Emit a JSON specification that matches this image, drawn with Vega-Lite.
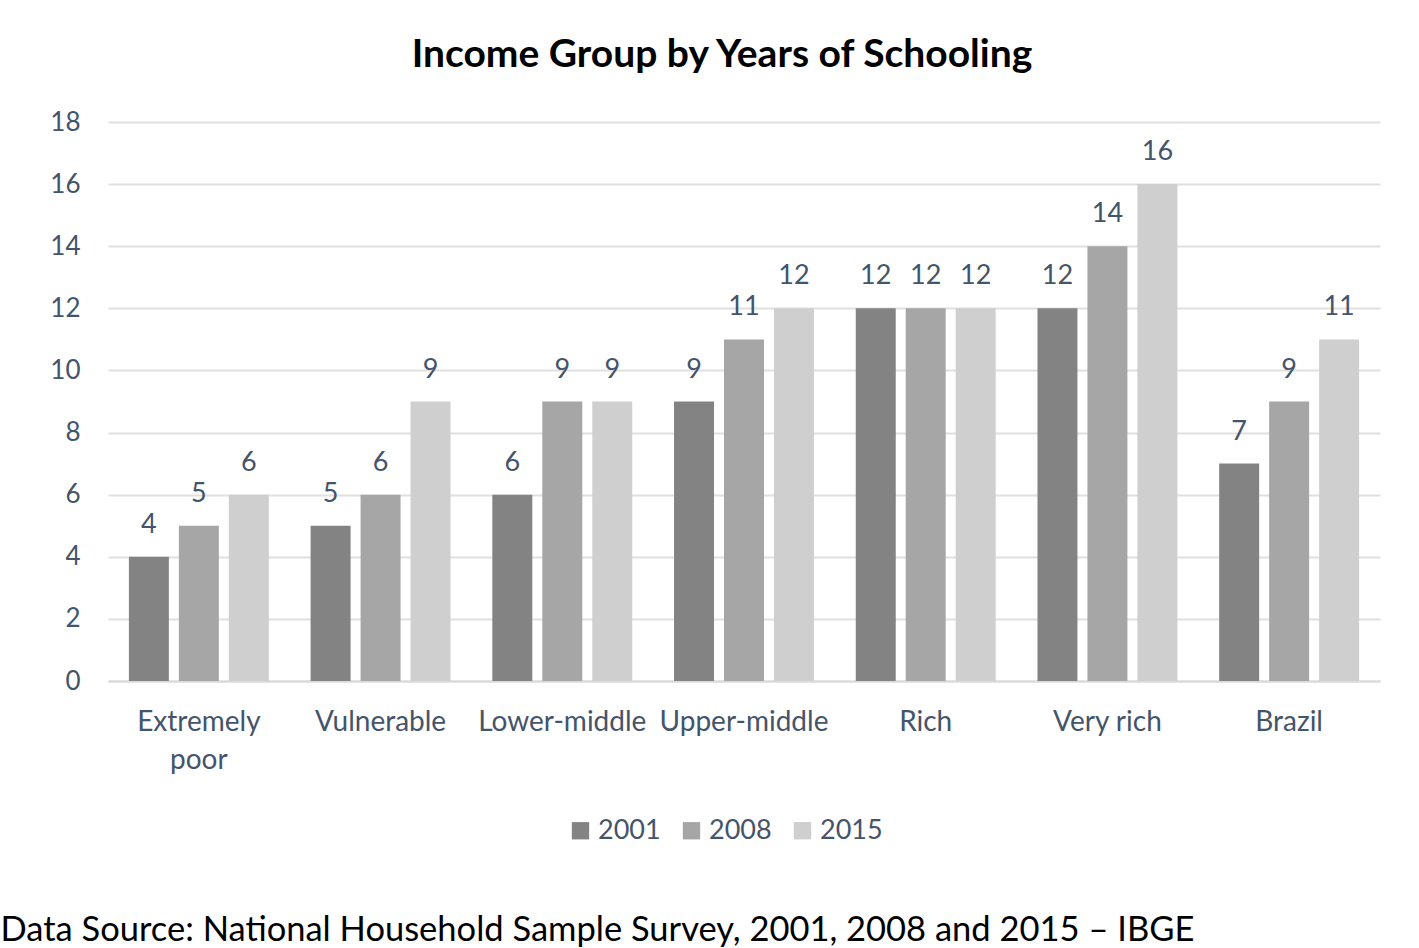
{
  "$schema": "https://vega.github.io/schema/vega-lite/v6.json",
  "width": 1272,
  "height": 559,
  "autosize": {"type": "none"},
  "padding": {"left": 108, "top": 122, "right": 39, "bottom": 267},
  "background": "white",
  "title": {
    "text": "Income Group by Years of Schooling",
    "font": "Lato",
    "fontSize": 39,
    "fontWeight": "bold",
    "color": "#000000",
    "anchor": "middle",
    "frame": "group",
    "dx": -22,
    "offset": 34
  },
  "data": {
    "values": [
      {"group": "Extremely poor", "year": "2001", "value": 4},
      {"group": "Extremely poor", "year": "2008", "value": 5},
      {"group": "Extremely poor", "year": "2015", "value": 6},
      {"group": "Vulnerable", "year": "2001", "value": 5},
      {"group": "Vulnerable", "year": "2008", "value": 6},
      {"group": "Vulnerable", "year": "2015", "value": 9},
      {"group": "Lower-middle", "year": "2001", "value": 6},
      {"group": "Lower-middle", "year": "2008", "value": 9},
      {"group": "Lower-middle", "year": "2015", "value": 9},
      {"group": "Upper-middle", "year": "2001", "value": 9},
      {"group": "Upper-middle", "year": "2008", "value": 11},
      {"group": "Upper-middle", "year": "2015", "value": 12},
      {"group": "Rich", "year": "2001", "value": 12},
      {"group": "Rich", "year": "2008", "value": 12},
      {"group": "Rich", "year": "2015", "value": 12},
      {"group": "Very rich", "year": "2001", "value": 12},
      {"group": "Very rich", "year": "2008", "value": 14},
      {"group": "Very rich", "year": "2015", "value": 16},
      {"group": "Brazil", "year": "2001", "value": 7},
      {"group": "Brazil", "year": "2008", "value": 9},
      {"group": "Brazil", "year": "2015", "value": 11}
    ]
  },
  "encoding": {
    "x": {
      "field": "group",
      "type": "nominal",
      "sort": null,
      "scale": {"paddingInner": 0.23, "paddingOuter": 0.115},
      "axis": {
        "title": "Data Source: National Household Sample Survey, 2001, 2008 and 2015 – IBGE",
        "titleFont": "Lato",
        "titleFontSize": 34.5,
        "titleFontWeight": "normal",
        "titleColor": "#000000",
        "titleAlign": "left",
        "titleAnchor": "start",
        "titleBaseline": "alphabetic",
        "titleX": -108,
        "titleY": 259,
        "labelExpr": "datum.label == 'Extremely poor' ? ['Extremely', 'poor'] : datum.label",
        "labelAngle": 0,
        "labelFont": "Lato",
        "labelFontSize": 28,
        "labelColor": "#44546a",
        "labelPadding": 41,
        "labelLineHeight": 38,
        "labelBaseline": "middle",
        "ticks": false,
        "domainColor": "#d9d9d9",
        "domainWidth": 2
      }
    },
    "xOffset": {
      "field": "year",
      "type": "nominal",
      "scale": {"paddingInner": 0.2, "paddingOuter": 0}
    },
    "y": {
      "field": "value",
      "type": "quantitative",
      "scale": {"domain": [0, 18]},
      "axis": {
        "title": null,
        "values": [0, 2, 4, 6, 8, 10, 12, 14, 16, 18],
        "labelFont": "Lato",
        "labelFontSize": 26,
        "labelColor": "#44546a",
        "labelPadding": 28,
        "ticks": false,
        "domain": false,
        "gridColor": "#e0e0e0",
        "gridWidth": 2
      }
    }
  },
  "layer": [
    {
      "mark": {"type": "bar"},
      "encoding": {
        "color": {
          "field": "year",
          "type": "nominal",
          "scale": {"domain": ["2001", "2008", "2015"], "range": ["#838383", "#a6a6a6", "#cfcfcf"]},
          "legend": {
            "title": null,
            "orient": "none",
            "direction": "horizontal",
            "legendX": 459,
            "legendY": 695,
            "symbolType": "square",
            "symbolSize": 300,
            "symbolStrokeWidth": 0,
            "labelFont": "Lato",
            "labelFontSize": 27,
            "labelColor": "#44546a",
            "columnPadding": 17,
            "labelOffset": 4
          }
        }
      }
    },
    {
      "mark": {"type": "text", "baseline": "alphabetic", "dy": -24, "font": "Lato", "fontSize": 27, "color": "#44546a"},
      "encoding": {
        "text": {"field": "value", "type": "quantitative"}
      }
    }
  ],
  "config": {
    "view": {"stroke": null}
  }
}
